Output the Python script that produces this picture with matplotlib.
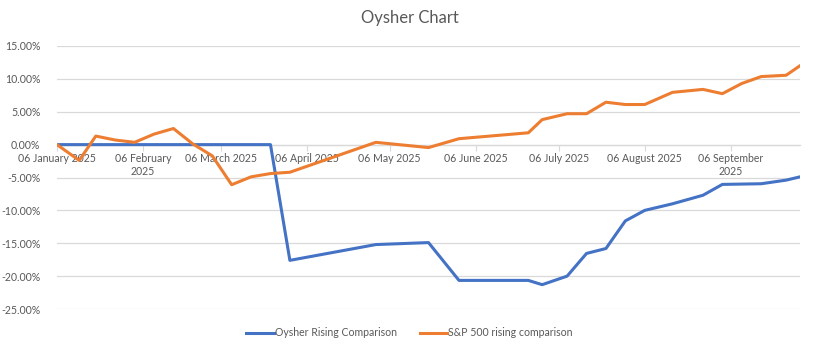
import matplotlib
matplotlib.use("Agg")
import matplotlib.pyplot as plt
import matplotlib.dates as mdates
import pandas as pd
import numpy as np

plt.rcParams['font.family'] = ['Lato', 'DejaVu Sans']

# Dates of the data points
dates = ["2025-01-06", "2025-01-14", "2025-01-20", "2025-01-27", "2025-02-03",
         "2025-02-10", "2025-02-17", "2025-02-24", "2025-03-03", "2025-03-10",
         "2025-03-17", "2025-03-24", "2025-03-31", "2025-05-01", "2025-05-20",
         "2025-05-31", "2025-06-25", "2025-06-30", "2025-07-09", "2025-07-16",
         "2025-07-23", "2025-07-30", "2025-08-06", "2025-08-16", "2025-08-27",
         "2025-09-03", "2025-09-10", "2025-09-17", "2025-09-26", "2025-10-01"]

# Values in %
oysher = [0, 0, 0, 0, 0,
          0, 0, 0, 0, 0,
          0, 0, -17.6, -15.2, -14.9,
          -20.65, -20.65, -21.3, -20.0, -16.55,
          -15.8, -11.6, -10.0, -9.0, -7.7,
          -6.05, -6.0, -5.95, -5.4, -4.9]

sp500 = [0, -2.4, 1.3, 0.7, 0.35,
         1.6, 2.45, 0.1, -1.7, -6.1,
         -4.9, -4.4, -4.2, 0.35, -0.45,
         0.9, 1.8, 3.8, 4.7, 4.7,
         6.45, 6.1, 6.1, 7.95, 8.4,
         7.75, 9.3, 10.35, 10.55, 12.0]

tick_dates = ["2025-01-06", "2025-02-06", "2025-03-06", "2025-04-06", "2025-05-06",
              "2025-06-06", "2025-07-06", "2025-08-06", "2025-09-06"]
tick_labels = ["06 January 2025", "06 February\n2025", "06 March 2025", "06 April 2025",
               "06 May 2025", "06 June 2025", "06 July 2025", "06 August 2025",
               "06 September\n2025"]

x = pd.to_datetime(dates)
txt = "#595959"
grid = "#d9d9d9"
fs = 7.6

fig = plt.figure(figsize=(8.14, 3.51), dpi=100)
ax = fig.add_axes([57/814, 1 - 309/351, 743/814, 263/351])

ax.plot(x, oysher, color="#4472C4", lw=2.2, label="Oysher Rising Comparison",
        solid_joinstyle="round", zorder=3)
ax.plot(x, sp500, color="#ED7D31", lw=2.2, label="S&P 500 rising comparison",
        solid_joinstyle="round", zorder=3)

ax.set_ylim(-25, 15)
ax.set_yticks(np.arange(-25, 16, 5))
ax.set_yticklabels([f"{v:.2f}%" for v in np.arange(-25, 16, 5)])
ax.set_xlim(x[0], x[-1])
ax.set_xticks(pd.to_datetime(tick_dates))
ax.set_xticklabels(tick_labels)

ax.grid(axis="y", color=grid, lw=0.9, zorder=0)
for s in ["top", "right", "left"]:
    ax.spines[s].set_visible(False)
ax.spines["bottom"].set_position(("data", 0))
ax.spines["bottom"].set_color(grid)
ax.spines["bottom"].set_linewidth(0.9)
ax.tick_params(axis="x", direction="out", length=4, color=grid, labelcolor=txt,
               labelsize=fs, pad=2)
ax.tick_params(axis="y", length=0, labelcolor=txt, labelsize=fs, pad=12)

fig.text(0.503, 1 - 18/351, "Oysher Chart", ha="center", va="center",
         fontsize=12, color=txt)

fig.legend(loc="center", bbox_to_anchor=(0.503, 1 - 333/351), ncol=2, frameon=False,
           fontsize=fs, labelcolor=txt, handlelength=2.6, handletextpad=0.1,
           columnspacing=2.2)

fig.savefig("out.png", dpi=100)
